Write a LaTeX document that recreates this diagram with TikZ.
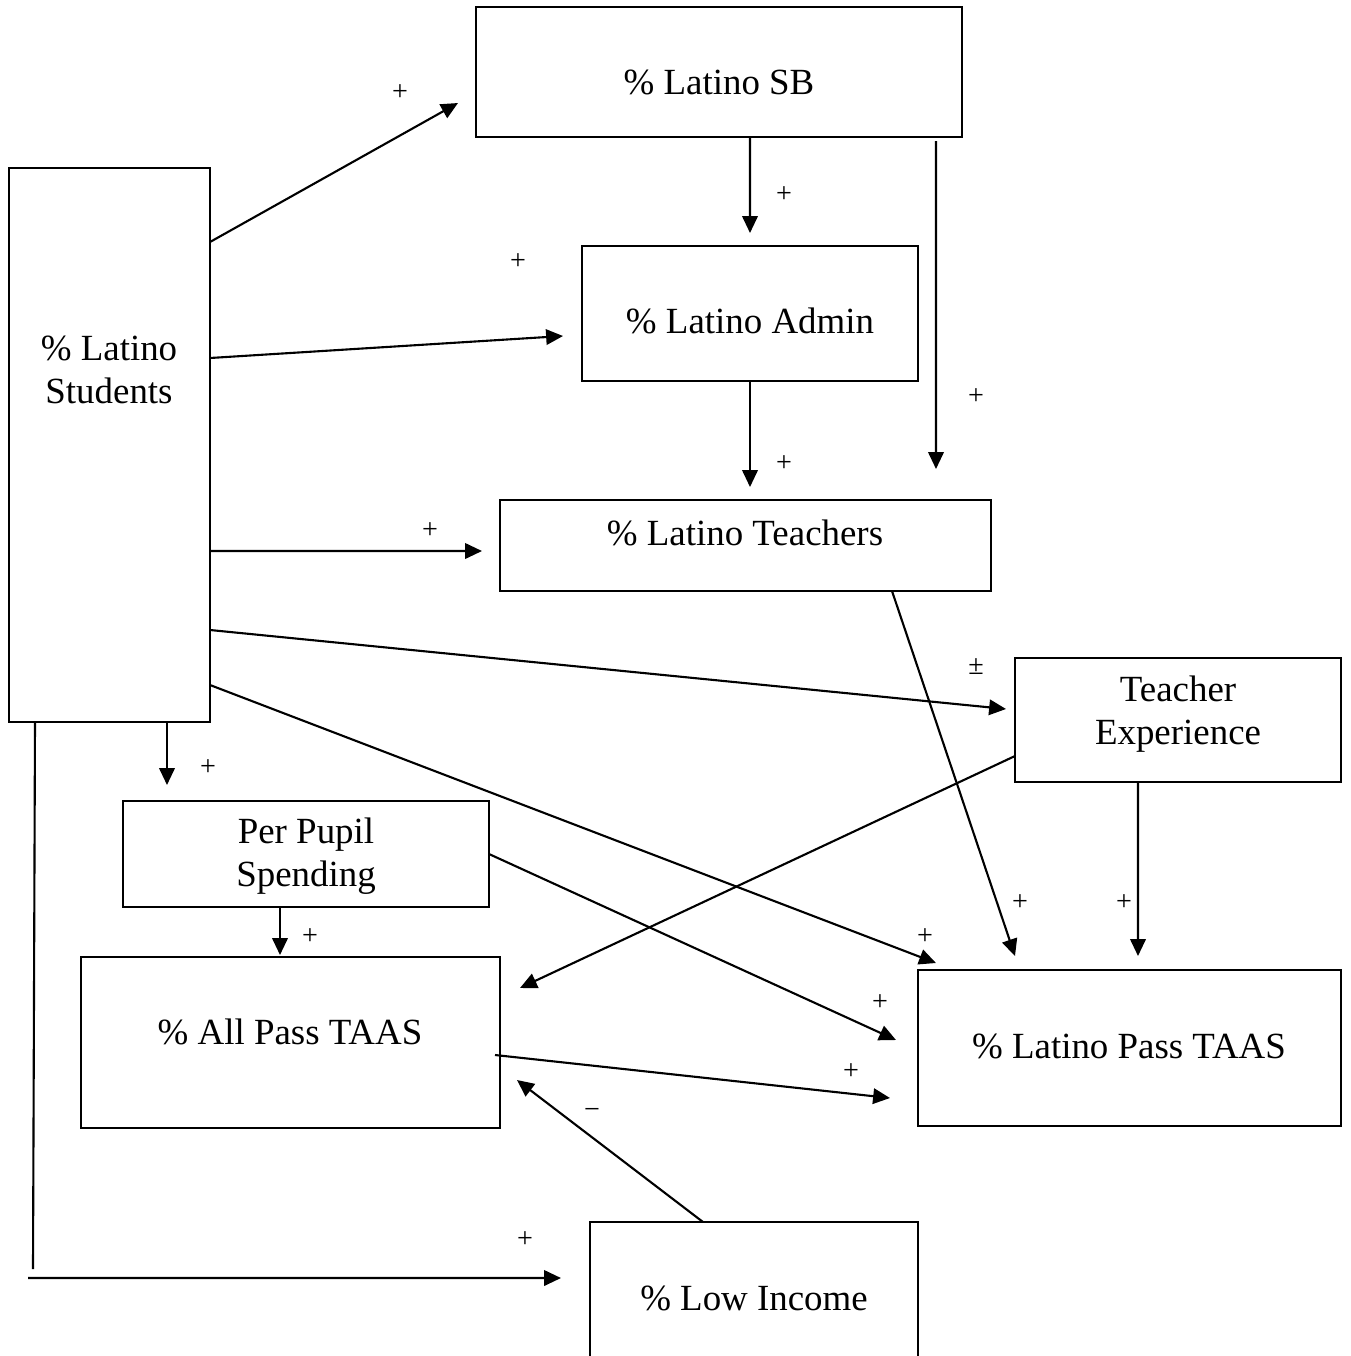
\documentclass[tikz,border=0pt]{standalone}
\usepackage{fontspec}
\setmainfont{Liberation Serif}
\usetikzlibrary{arrows.meta,calc}

\tikzset{
  box/.style={draw,rectangle,line width=0.6pt,inner sep=0pt,outer sep=0pt},
  lbl/.style={align=center,inner sep=0pt,font=\fontsize{10.5}{12.3}\selectfont},
  sign/.style={inner sep=0pt,font=\fontsize{8}{9}\selectfont},
  arr/.style={draw,line width=0.6pt,-{Triangle[length=4.8pt,width=4.4pt]}},
  ln/.style={draw,line width=0.6pt}
}

\begin{document}
\begin{tikzpicture}
  \useasboundingbox (0,0) rectangle (13.5,-13.56);

  % boxes
  \begin{scope}[every node/.style={box}]
    \node[minimum width=2.01cm,minimum height=5.54cm] (stud) at (1.095,-4.45)  {};
    \node[minimum width=4.86cm,minimum height=1.30cm] (sb)   at (7.19,-0.72)   {};
    \node[minimum width=3.36cm,minimum height=1.35cm] (adm)  at (7.50,-3.135)  {};
    \node[minimum width=4.91cm,minimum height=0.91cm] (tea)  at (7.455,-5.455) {};
    \node[minimum width=3.26cm,minimum height=1.24cm] (texp) at (11.78,-7.20)  {};
    \node[minimum width=3.66cm,minimum height=1.06cm] (pps)  at (3.06,-8.54)   {};
    \node[minimum width=4.19cm,minimum height=1.71cm] (allp) at (2.905,-10.425){};
    \node[minimum width=4.23cm,minimum height=1.56cm] (latp) at (11.295,-10.48){};
    \node[minimum width=3.28cm,minimum height=1.54cm] (low)  at (7.54,-12.99)  {};
  \end{scope}

  % box texts
  \begin{scope}[every node/.style={lbl}]
    \node (studtxt) at (1.09,-3.70)  {\% Latino\\Students};
    \node (sbtxt)   at (7.19,-0.82)  {\% Latino SB};
    \node (admtxt)  at (7.50,-3.21)  {\% Latino Admin};
    \node (teatxt)  at (7.45,-5.33)  {\% Latino Teachers};
    \node (texptxt) at (11.78,-7.14) {Teacher\\Experience};
    \node (ppstxt)  at (3.06,-8.56)  {Per Pupil\\Spending};
    \node (allptxt) at (2.90,-10.32) {\% All Pass TAAS};
    \node (latptxt) at (11.29,-10.46){\% Latino Pass TAAS};
    \node (lowtxt)  at (7.54,-12.98) {\% Low Income};
  \end{scope}

  % paths
  \coordinate (corner) at ($(stud.south west)+(0.24,-5.47)$);
  \coordinate (start)  at ($(stud.south west)+(0.19,-5.56)$);

  \path[arr] ($(stud.north east)+(0,-0.74)$) -- ($(sb.west)+(-0.18,-0.31)$);
  \path[arr] ($(stud.north east)+(0,-1.90)$) -- ($(adm.west)+(-0.19,-0.225)$);
  \path[arr] ($(stud.north east)+(0,-3.83)$) -- ($(tea.west)+(-0.18,-0.055)$);
  \path[arr] ($(stud.north east)+(0,-4.62)$) -- ($(texp.west)+(-0.09,0.11)$);
  \path[arr] ($(stud.north east)+(0,-5.17)$) -- ($(latp.north west)+(0.18,0.07)$);
  \path[arr] ($(stud.south west)+(1.58,0)$)  -- ($(stud.south west)+(1.58,-0.63)$);
  \path[ln]  ($(stud.south west)+(0.26,0)$)  -- (corner);
  \path[arr] (start) -- ($(low.north west)+(-0.29,-0.56)$);

  \path[arr] ($(sb.south)+(0.31,0)$) -- ($(adm.north)+(0,0.13)$);
  \path[arr] ($(sb.south east)+(-0.26,-0.04)$) -- ($(tea.north east)+(-0.55,0.31)$);
  \path[arr] (adm.south) -- ($(tea.north)+(0.045,0.13)$);
  \path[arr] ($(tea.south east)+(-0.99,0)$) -- ($(latp.north)+(-1.145,0.14)$);
  \path[arr] ($(texp.south west)+(0,0.26)$) -- ($(allp.north east)+(0.20,-0.31)$);
  \path[arr] ($(texp.south)+(-0.40,0)$) -- ($(latp.north)+(0.085,0.14)$);
  \path[arr] (pps.east) -- ($(latp.west)+(-0.22,0.08)$);
  \path[arr] ($(pps.south)+(-0.26,0)$) -- ($(allp.north)+(-0.105,0.02)$);
  \path[arr] ($(allp.east)+(-0.05,-0.125)$) -- ($(latp.west)+(-0.28,-0.50)$);
  \path[arr] ($(low.north)+(-0.51,0)$) -- ($(allp.south east)+(0.17,0.48)$);

  % signs
  \begin{scope}[every node/.style={sign}]
    \node (s1)  at (4.00,-0.93)  {+};
    \node (s2)  at (5.18,-2.62)  {+};
    \node (s3)  at (4.30,-5.31)  {+};
    \node (s4)  at (9.76,-6.67)  {±};
    \node (s5)  at (9.25,-9.37)  {+};
    \node (s6)  at (2.08,-7.68)  {+};
    \node (s7)  at (5.25,-12.40) {+};
    \node (s8)  at (7.84,-1.95)  {+};
    \node (s9)  at (9.76,-3.97)  {+};
    \node (s10) at (7.84,-4.64)  {+};
    \node (s11) at (10.20,-9.03) {+};
    \node (s12) at (11.24,-9.03) {+};
    \node (s13) at (8.80,-10.03) {+};
    \node (s14) at (3.10,-9.37)  {+};
    \node (s15) at (8.51,-10.72) {+};
    \node (s16) at (5.92,-11.13) {−};
  \end{scope}

\end{tikzpicture}
\end{document}
